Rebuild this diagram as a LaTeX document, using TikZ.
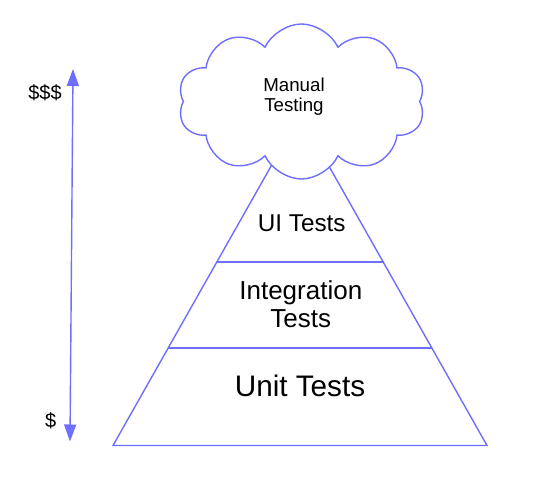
\documentclass[tikz,border=0pt]{standalone}
\usepackage{fontspec}
\setmainfont{Liberation Sans}
\usetikzlibrary{shapes.symbols,arrows.meta}
\definecolor{pyr}{RGB}{110,110,255}
\begin{document}
\begin{tikzpicture}[x=1pt,y=-1pt,line width=1.4pt,
  lbl/.style={inner sep=0pt,align=center}]
\useasboundingbox (0,0) rectangle (548,489);
\coordinate (top) at (300,115);
\coordinate (bl) at (113,445.5);
\coordinate (br) at (487,445.5);
\coordinate (l1) at (216.8,262);
\coordinate (r1) at (383.8,262);
\coordinate (l2) at (168.3,347.8);
\coordinate (r2) at (432,347.8);
\draw [pyr] (top) -- (bl) -- (br) -- cycle;
\draw [pyr] (l1) -- (r1);
\draw [pyr] (l2) -- (r2);
\node (cl) at (301.5,101.5) [cloud,cloud puffs=10,cloud puff arc=130,aspect=1.6,draw=pyr,fill=white,minimum width=247,minimum height=155] {};
\node (man) at (294,96.8) [lbl,font=\fontsize{18.7}{20.7}\selectfont] {Manual\\Testing};
\node (ui) at (301.7,231) [lbl,anchor=base,font=\fontsize{24.3}{26}\selectfont] {UI Tests};
\node (int) at (300.8,304.2) [lbl,font=\fontsize{26}{27.4}\selectfont] {Integration\\Tests};
\node (unit) at (300,396.7) [lbl,anchor=base,font=\fontsize{29.7}{32}\selectfont] {Unit Tests};
\node (hi) at (45,93) [lbl,font=\fontsize{20}{22}\selectfont] {\$\$\$};
\node (lo) at (50.7,421) [lbl,font=\fontsize{20}{22}\selectfont] {\$};
\coordinate (up) at (73,69);
\coordinate (dn) at (70,441.5);
\draw [pyr,{Triangle[width=12pt,length=17pt]}-{Triangle[width=12pt,length=17pt]}] (up) -- (dn);
\end{tikzpicture}
\end{document}
